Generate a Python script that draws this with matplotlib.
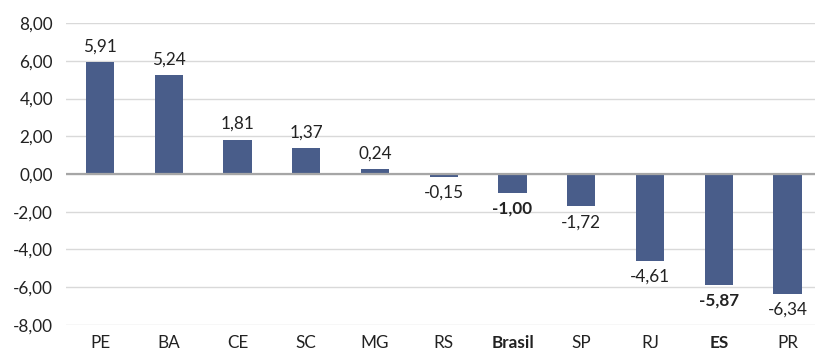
import matplotlib
matplotlib.use("Agg")
import matplotlib.pyplot as plt

categories = ["PE", "BA", "CE", "SC", "MG", "RS", "Brasil", "SP", "RJ", "ES", "PR"]
values = [5.91, 5.24, 1.81, 1.37, 0.24, -0.15, -1.00, -1.72, -4.61, -5.87, -6.34]
bold_labels = {"Brasil", "ES"}
yticks = [-8, -6, -4, -2, 0, 2, 4, 6, 8]

plt.rcParams["font.family"] = ["Lato", "DejaVu Sans"]

fig = plt.figure(figsize=(8.15, 3.54), dpi=100)
ax = fig.add_axes([0.0805, 0.082, 0.928, 0.853])

bar_color = "#495d8a"
x = range(len(categories))
ax.bar(x, values, width=0.41, color=bar_color, zorder=3)

ax.set_xlim(-0.5, len(categories) - 0.5)
ax.set_ylim(-8, 8)
ax.set_yticks(yticks)
fs = 12.3
ax.set_yticklabels([f"{v:.2f}".replace(".", ",") for v in yticks], fontsize=fs, color="#222222")
ax.yaxis.grid(True, color="#d9d9d9", linewidth=1, zorder=0)
ax.axhline(0, color="#a6a6a6", linewidth=1.6, zorder=4)

ax.set_xticks(list(x))
ax.set_xticklabels(categories, fontsize=fs, color="#222222")
for lbl, name in zip(ax.get_xticklabels(), categories):
    if name in bold_labels:
        lbl.set_fontweight("bold")

ax.tick_params(axis="both", length=0)
ax.tick_params(axis="x", pad=7)
ax.tick_params(axis="y", pad=9)
for s in ax.spines.values():
    s.set_visible(False)

for i, (name, v) in enumerate(zip(categories, values)):
    txt = f"{v:.2f}".replace(".", ",")
    weight = "bold" if name in bold_labels else "normal"
    off = 0.42 if v >= 0 else -0.42
    va = "bottom" if v >= 0 else "top"
    ax.text(i, v + off, txt, ha="center", va=va, fontsize=fs,
            fontweight=weight, color="#222222", zorder=5)

fig.savefig("out.png", dpi=100)
